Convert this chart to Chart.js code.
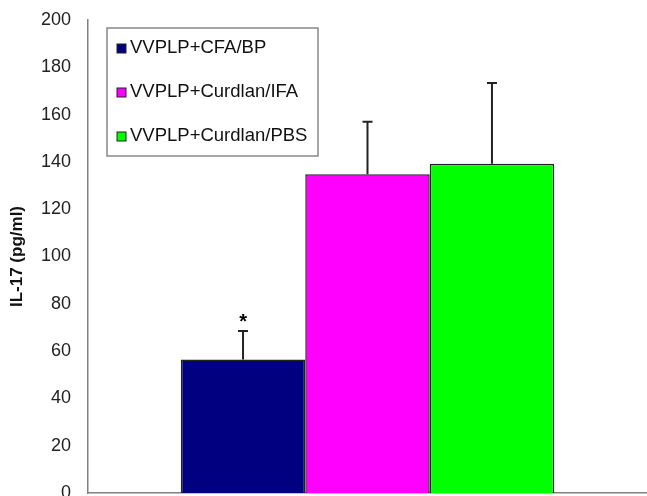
<!DOCTYPE html>
<html>
<head>
<meta charset="utf-8">
<script src="https://cdn.jsdelivr.net/npm/chart.js@4"></script>
<style>
  html, body { margin: 0; padding: 0; background: #fff; }
  #wrap { width: 647px; height: 496px; }
</style>
</head>
<body>
<div id="wrap"><canvas id="il17Chart"></canvas></div>
<script>
const grupos = ['VVPLP+CFA/BP', 'VVPLP+Curdlan/IFA', 'VVPLP+Curdlan/PBS'];
const medias = [56.5, 134.8, 139.2];
const errores = [12.0, 22.2, 34.2];
const colores = ['#000080', '#ff00ff', '#00ff00'];
const marcas = ['*', '', ''];
const ticksY = [0, 20, 40, 60, 80, 100, 120, 140, 160, 180, 200];

const fuente = "'Liberation Sans', Arial, sans-serif";

// barras de error + asterisco
const barrasError = {
    id: 'barrasError',
    afterDatasetsDraw(chart) {
        const c = chart.ctx;
        const y = chart.scales.y;
        chart.data.datasets.forEach((ds, i) => {
            const bar = chart.getDatasetMeta(i).data[0];
            const tope = y.getPixelForValue(medias[i] + errores[i]);
            c.save();
            c.strokeStyle = '#222';
            c.lineWidth = 2;
            c.beginPath();
            c.moveTo(bar.x, bar.y);
            c.lineTo(bar.x, tope);
            c.moveTo(bar.x - 5, tope);
            c.lineTo(bar.x + 5, tope);
            c.stroke();
            if (marcas[i]) {
                c.fillStyle = '#000';
                c.font = 'bold 20px ' + fuente;
                c.textAlign = 'center';
                c.textBaseline = 'middle';
                c.fillText(marcas[i], bar.x, tope - 9);
            }
            c.restore();
        });
    }
};

// leyenda con recuadro
const leyendaCaja = {
    id: 'leyendaCaja',
    afterDraw(chart) {
        const c = chart.ctx;
        const area = chart.chartArea;
        const x0 = area.left + 19, y0 = area.top + 8;
        c.save();
        c.strokeStyle = '#888';
        c.lineWidth = 1.5;
        c.strokeRect(x0, y0, 211, 128);
        c.font = '18.5px ' + fuente;
        c.textBaseline = 'middle';
        chart.data.datasets.forEach((ds, i) => {
            const cy = y0 + 20 + i * 44;
            c.fillStyle = ds.backgroundColor;
            c.fillRect(x0 + 10, cy - 4, 9, 9);
            c.strokeStyle = '#222';
            c.lineWidth = 1;
            c.strokeRect(x0 + 10, cy - 4, 9, 9);
            c.fillStyle = '#111';
            c.fillText(ds.label, x0 + 23, cy);
        });
        c.restore();
    }
};

new Chart(document.getElementById('il17Chart'), {
    type: 'bar',
    data: {
        labels: [''],
        datasets: grupos.map((g, i) => ({
            label: g,
            data: [medias[i]],
            backgroundColor: colores[i],
            borderColor: '#222',
            borderWidth: 1.5,
            categoryPercentage: 0.668,
            barPercentage: 1
        }))
    },
    options: {
        responsive: true,
        maintainAspectRatio: false,
        animation: false,
        layout: { padding: { top: 20, left: 0, right: 0, bottom: 0 } },
        plugins: {
            legend: { display: false },
            tooltip: { enabled: false }
        },
        scales: {
            x: {
                grid: { display: false },
                border: { color: '#808080', width: 1.5 },
                ticks: { display: false },
                afterFit: s => { s.height = 3; s.paddingLeft = 0; s.paddingRight = 0; }
            },
            y: {
                min: 0,
                max: 200,
                afterBuildTicks: s => { s.ticks = ticksY.map(v => ({ value: v })); },
                grid: { display: false, drawOnChartArea: false, drawTicks: true, tickLength: 6 },
                border: { color: '#808080', width: 1.5 },
                ticks: {
                    color: '#222',
                    padding: 11,
                    font: { family: fuente, size: 18 }
                },
                title: {
                    display: true,
                    text: 'IL-17 (pg/ml)',
                    color: '#111',
                    padding: { top: 7, bottom: 0 },
                    font: { family: fuente, size: 17, weight: 'bold' }
                },
                afterFit: s => { s.width = 88; s.paddingTop = 0; s.paddingBottom = 0; }
            }
        }
    },
    plugins: [barrasError, leyendaCaja]
});
</script>
</body>
</html>
